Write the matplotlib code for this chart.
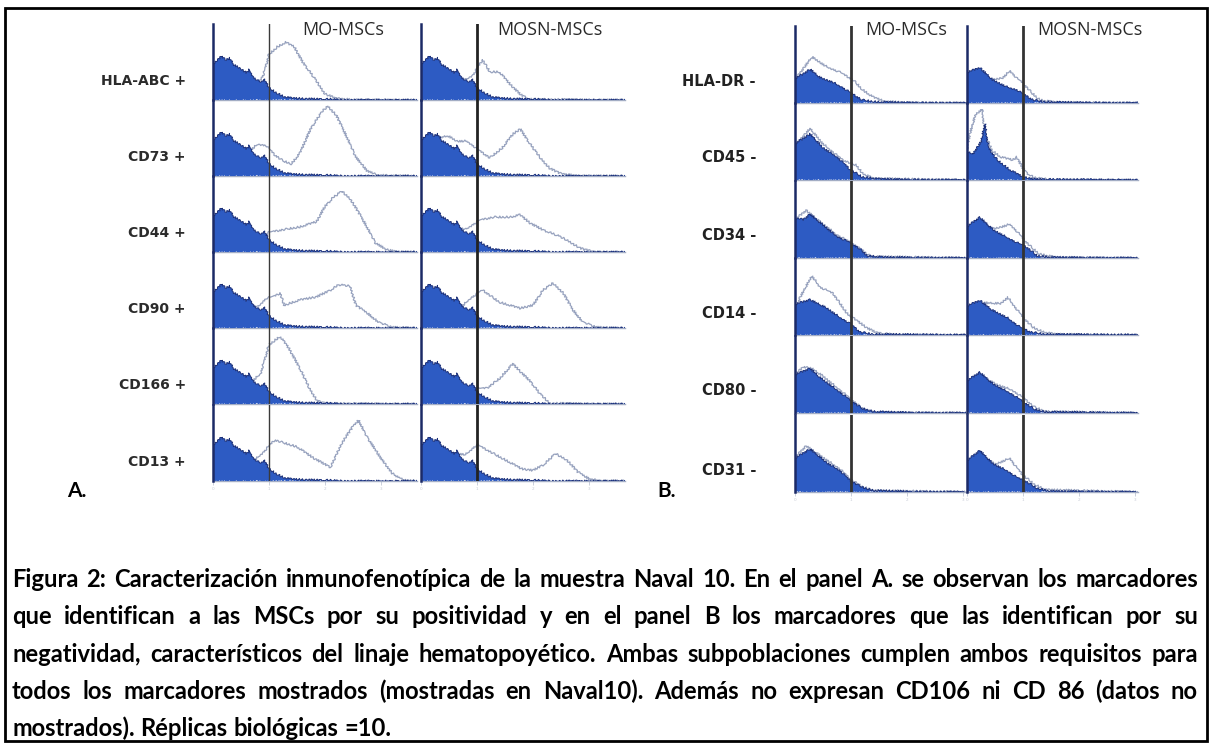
import matplotlib
matplotlib.use("Agg")
import matplotlib.pyplot as plt
from matplotlib.patches import Rectangle

W, H = 1213, 747

columns = ["MO-MSCs", "MOSN-MSCs"]
a_rows = ["HLA-ABC +", "CD73 +", "CD44 +", "CD90 +", "CD166 +", "CD13 +"]
b_rows = ["HLA-DR -", "CD45 -", "CD34 -", "CD14 -", "CD80 -", "CD31 -"]

# curves as (log decade, fraction of row height) points
# panel A: isotype control (filled), same in every row
a_iso = [(0, 0.48), (0.08, 0.52), (0.15, 0.58), (0.22, 0.53), (0.3, 0.55), (0.38, 0.46),
         (0.5, 0.41), (0.6, 0.36), (0.65, 0.40), (0.72, 0.30), (0.85, 0.23), (0.93, 0.27),
         (1.0, 0.16), (1.12, 0.10), (1.25, 0.05), (1.4, 0.025), (1.7, 0.015), (2.1, 0.01),
         (2.3, 0.0), (3.65, 0.0)]

a_mo = [
    [(0, 0.4), (0.8, 0.22), (0.9, 0.33), (1.0, 0.6), (1.15, 0.7), (1.3, 0.76), (1.45, 0.7),
     (1.6, 0.5), (1.8, 0.3), (2.0, 0.08), (2.2, 0.02), (2.5, 0.005), (3.65, 0)],
    [(0, 0.4), (0.6, 0.3), (0.8, 0.42), (0.95, 0.4), (1.1, 0.28), (1.25, 0.2), (1.4, 0.16),
     (1.55, 0.3), (1.75, 0.63), (1.95, 0.85), (2.05, 0.92), (2.2, 0.8), (2.4, 0.5),
     (2.55, 0.25), (2.75, 0.07), (2.95, 0.01), (3.65, 0)],
    [(0, 0.4), (0.9, 0.2), (1.0, 0.26), (1.3, 0.3), (1.55, 0.33), (1.85, 0.4), (2.0, 0.6),
     (2.15, 0.72), (2.3, 0.8), (2.45, 0.7), (2.6, 0.52), (2.75, 0.33), (2.9, 0.12),
     (3.1, 0.03), (3.3, 0.005), (3.65, 0)],
    [(0, 0.4), (0.8, 0.28), (0.95, 0.39), (1.1, 0.42), (1.2, 0.46), (1.27, 0.3), (1.55, 0.37),
     (1.85, 0.41), (2.1, 0.5), (2.25, 0.57), (2.45, 0.55), (2.55, 0.3), (2.75, 0.2),
     (2.95, 0.08), (3.2, 0.01), (3.65, 0)],
    [(0, 0.4), (0.7, 0.3), (0.85, 0.4), (1.0, 0.78), (1.2, 0.89), (1.35, 0.74), (1.55, 0.47),
     (1.72, 0.21), (1.86, 0.04), (2.0, 0.01), (3.65, 0)],
    [(0, 0.4), (0.75, 0.28), (0.9, 0.38), (1.1, 0.54), (1.5, 0.45), (1.8, 0.3), (2.1, 0.18),
     (2.3, 0.5), (2.5, 0.72), (2.6, 0.8), (2.75, 0.58), (2.98, 0.32), (3.2, 0.1),
     (3.4, 0.01), (3.65, 0)],
]

a_mosn = [
    [(0, 0.4), (0.8, 0.27), (0.93, 0.33), (1.1, 0.53), (1.23, 0.37), (1.4, 0.37), (1.6, 0.2),
     (1.78, 0.07), (1.95, 0.01), (3.65, 0)],
    [(0, 0.42), (0.3, 0.5), (0.48, 0.53), (0.64, 0.46), (0.82, 0.46), (1.05, 0.33),
     (1.23, 0.24), (1.45, 0.37), (1.64, 0.55), (1.77, 0.62), (1.95, 0.42), (2.13, 0.24),
     (2.3, 0.1), (2.5, 0.03), (2.8, 0.005), (3.65, 0)],
    [(0, 0.4), (0.8, 0.3), (1.05, 0.42), (1.3, 0.46), (1.6, 0.46), (1.77, 0.49), (1.95, 0.38),
     (2.18, 0.29), (2.43, 0.22), (2.6, 0.16), (2.84, 0.05), (3.07, 0.005), (3.65, 0)],
    [(0, 0.4), (0.75, 0.3), (0.88, 0.39), (1.1, 0.5), (1.4, 0.34), (1.77, 0.26), (2.0, 0.3),
     (2.18, 0.5), (2.36, 0.59), (2.54, 0.46), (2.71, 0.24), (2.89, 0.08), (3.14, 0.01),
     (3.65, 0)],
    [(0, 0.4), (0.9, 0.2), (1.18, 0.21), (1.41, 0.34), (1.64, 0.53), (1.77, 0.43),
     (1.95, 0.3), (2.13, 0.13), (2.3, 0.01), (3.65, 0)],
    [(0, 0.4), (0.8, 0.35), (1.0, 0.48), (1.2, 0.4), (1.5, 0.28), (1.8, 0.16), (2.0, 0.14),
     (2.2, 0.22), (2.4, 0.36), (2.6, 0.28), (2.8, 0.12), (3.0, 0.03), (3.2, 0.005), (3.65, 0)],
]

# panel B: filled and outlined curves differ per row
b_mo_iso = [
    [(0, 0.32), (0.15, 0.38), (0.27, 0.44), (0.45, 0.33), (0.68, 0.27), (0.85, 0.2),
     (1.02, 0.12), (1.2, 0.04), (1.45, 0.015), (2.0, 0.005), (3.05, 0)],
    [(0, 0.47), (0.27, 0.6), (0.5, 0.42), (0.75, 0.3), (0.98, 0.14), (1.2, 0.04),
     (1.5, 0.015), (2.0, 0.005), (3.05, 0)],
    [(0, 0.52), (0.15, 0.5), (0.27, 0.57), (0.45, 0.46), (0.75, 0.28), (0.98, 0.2),
     (1.16, 0.12), (1.29, 0.03), (1.6, 0.01), (2.2, 0.005), (3.05, 0)],
    [(0, 0.4), (0.27, 0.46), (0.57, 0.35), (0.8, 0.23), (0.98, 0.15), (1.16, 0.04),
     (1.4, 0.01), (3.05, 0)],
    [(0, 0.5), (0.27, 0.58), (0.45, 0.46), (0.75, 0.3), (0.98, 0.17), (1.2, 0.06),
     (1.4, 0.02), (2.0, 0.005), (3.05, 0)],
    [(0, 0.44), (0.27, 0.56), (0.57, 0.38), (0.8, 0.28), (0.98, 0.15), (1.21, 0.06),
     (1.4, 0.02), (2.0, 0.005), (3.05, 0)],
]
b_mo = [
    [(0, 0.3), (0.2, 0.5), (0.3, 0.6), (0.57, 0.47), (0.8, 0.4), (1.04, 0.3), (1.21, 0.17),
     (1.39, 0.08), (1.6, 0.02), (2.0, 0.005), (3.05, 0)],
    [(0, 0.45), (0.27, 0.67), (0.5, 0.47), (0.85, 0.26), (1.1, 0.19), (1.2, 0.09),
     (1.4, 0.02), (3.05, 0)],
    [(0, 0.5), (0.2, 0.62), (0.4, 0.5), (0.75, 0.3), (1.0, 0.2), (1.2, 0.1), (1.35, 0.02),
     (3.05, 0)],
    [(0, 0.3), (0.09, 0.49), (0.3, 0.77), (0.45, 0.62), (0.68, 0.54), (0.93, 0.28),
     (1.1, 0.19), (1.29, 0.09), (1.46, 0.03), (1.8, 0.005), (3.05, 0)],
    [(0, 0.5), (0.15, 0.6), (0.3, 0.58), (0.5, 0.48), (0.8, 0.3), (1.0, 0.18), (1.2, 0.06),
     (1.4, 0.01), (3.05, 0)],
    [(0, 0.45), (0.2, 0.6), (0.4, 0.5), (0.8, 0.3), (1.0, 0.16), (1.2, 0.07), (1.4, 0.02),
     (3.05, 0)],
]
b_mosn_iso = [
    [(0, 0.4), (0.23, 0.46), (0.46, 0.3), (0.71, 0.21), (0.89, 0.17), (1.04, 0.1),
     (1.18, 0.04), (1.4, 0.015), (2.0, 0.005), (3.05, 0)],
    [(0, 0.38), (0.1, 0.33), (0.25, 0.5), (0.32, 0.73), (0.38, 0.42), (0.54, 0.26),
     (0.77, 0.13), (1.0, 0.04), (1.2, 0.01), (3.05, 0)],
    [(0, 0.41), (0.23, 0.53), (0.46, 0.37), (0.71, 0.27), (0.89, 0.2), (1.07, 0.14),
     (1.25, 0.03), (1.5, 0.01), (2.0, 0.005), (3.05, 0)],
    [(0, 0.38), (0.23, 0.45), (0.46, 0.32), (0.71, 0.23), (0.95, 0.1), (1.13, 0.04),
     (1.4, 0.01), (3.05, 0)],
    [(0, 0.42), (0.23, 0.53), (0.46, 0.38), (0.77, 0.26), (1.0, 0.15), (1.2, 0.05),
     (1.4, 0.015), (3.05, 0)],
    [(0, 0.41), (0.23, 0.54), (0.46, 0.37), (0.71, 0.28), (0.89, 0.19), (1.07, 0.13),
     (1.25, 0.05), (1.5, 0.01), (3.05, 0)],
]
b_mosn = [
    [(0, 0.38), (0.2, 0.44), (0.45, 0.3), (0.64, 0.33), (0.77, 0.42), (0.89, 0.32),
     (1.0, 0.26), (1.16, 0.13), (1.3, 0.04), (1.6, 0.01), (3.05, 0)],
    [(0, 0.4), (0.05, 0.6), (0.15, 0.85), (0.27, 0.92), (0.32, 0.6), (0.45, 0.38),
     (0.6, 0.3), (0.82, 0.26), (0.89, 0.3), (0.98, 0.17), (1.07, 0.09), (1.2, 0.03),
     (1.5, 0.005), (3.05, 0)],
    [(0, 0.4), (0.23, 0.5), (0.46, 0.38), (0.59, 0.4), (0.77, 0.44), (0.91, 0.33),
     (1.04, 0.22), (1.18, 0.12), (1.3, 0.05), (1.6, 0.01), (3.05, 0)],
    [(0, 0.36), (0.3, 0.42), (0.6, 0.41), (0.73, 0.49), (0.86, 0.36), (1.0, 0.23),
     (1.18, 0.1), (1.36, 0.04), (1.6, 0.01), (3.05, 0)],
    [(0, 0.4), (0.23, 0.5), (0.5, 0.38), (0.8, 0.3), (1.0, 0.2), (1.2, 0.08), (1.4, 0.02),
     (3.05, 0)],
    [(0, 0.4), (0.23, 0.5), (0.5, 0.36), (0.77, 0.44), (0.86, 0.34), (1.0, 0.22),
     (1.2, 0.1), (1.4, 0.03), (3.05, 0)],
]

caption = [
    "Figura 2: Caracterización inmunofenotípica de la muestra Naval 10. En el panel A. se observan los marcadores",
    "que identifican a las MSCs por su positividad y en el panel B los marcadores que las identifican por su",
    "negatividad, característicos del linaje hematopoyético. Ambas subpoblaciones cumplen ambos requisitos para",
    "todos los marcadores mostrados (mostradas en Naval10). Además no expresan CD106 ni CD 86 (datos no",
    "mostrados). Réplicas biológicas =10.",
]

FILL = "#2d5bc3"
EDGE = "#1b2f78"
STAIN = "#97a2be"
AXIS = "#1c2a66"
BASE = "#a3adc4"

fig = plt.figure(figsize=(W / 100, H / 100), dpi=100)


def px_axes(left, top, width, height):
    return fig.add_axes([left / W, 1 - (top + height) / H, width / W, height / H])


def panel(left, top, width, height, xmax, iso, stain, gate_lw, gate_col, last):
    ax = px_axes(left, top, width, height)
    ax.set_facecolor("none")
    xs, hs = zip(*stain)
    ln, = ax.plot(xs, hs, color=STAIN, lw=0.9, zorder=2)
    ln.set_sketch_params(1.0, 3, 2)
    xs, hs = zip(*iso)
    poly = ax.fill(list(xs) + [0], list(hs) + [0], color=FILL, lw=0, zorder=3)[0]
    poly.set_sketch_params(1.0, 3, 2)
    edge, = ax.plot(xs, hs, color=EDGE, lw=0.7, zorder=4)
    edge.set_sketch_params(1.0, 3, 2)
    ax.axvline(1, color=gate_col, lw=gate_lw, zorder=6)
    ax.set_xlim(0, xmax)
    ax.set_ylim(0, 1)
    for s in ("top", "right"):
        ax.spines[s].set_visible(False)
    ax.spines["left"].set_color(AXIS)
    ax.spines["left"].set_linewidth(1.8)
    ax.spines["left"].set_zorder(7)
    ax.spines["bottom"].set_color(BASE)
    ax.spines["bottom"].set_linewidth(1.0)
    ax.set_yticks([])
    if last:
        ax.set_xticks(range(int(xmax) + 1))
        ax.tick_params(axis="x", length=3, width=0.6, color="#c0c6d4", labelsize=3,
                       labelcolor="#c8ccd6", pad=1)
    else:
        ax.set_xticks([])
    return ax


# panel A
a_left = [213, 421]
a_base = [100, 176, 252, 328, 404, 481]
a_h = 76
a_xmax = 3.65
a_gates = [(1.0, "#3a3a3a"), (2.0, "#222222")]
for r, base in enumerate(a_base):
    for c, left in enumerate(a_left):
        stain = a_mo[r] if c == 0 else a_mosn[r]
        panel(left, base - a_h, a_xmax * 56, a_h, a_xmax, a_iso, stain,
              a_gates[c][0], a_gates[c][1], r == len(a_base) - 1)
    fig.text(186 / W, 1 - (base - 19) / H, a_rows[r], ha="right", va="center",
             fontsize=10, fontweight="bold", color="#2b2b2b", family="DejaVu Sans")

# panel B
b_left = [795, 967]
b_base = [103, 180, 258, 335, 413, 492]
b_h = 77
b_xmax = 3.05
for r, base in enumerate(b_base):
    for c, left in enumerate(b_left):
        iso = b_mo_iso[r] if c == 0 else b_mosn_iso[r]
        stain = b_mo[r] if c == 0 else b_mosn[r]
        panel(left, base - b_h, b_xmax * 56, b_h, b_xmax, iso, stain,
              2.0, "#333333", r == len(b_base) - 1)
    fig.text(756 / W, 1 - (base - 22) / H, b_rows[r], ha="right", va="center",
             fontsize=10.5, fontweight="bold", color="#222222", family="DejaVu Sans")

# column headers
for x, name in zip([343, 550, 906, 1090], columns * 2):
    fig.text(x / W, 1 - 30 / H, name, ha="center", va="center", fontsize=13,
             color="#2a2a2a", family="Open Sans")

fig.text(67 / W, 1 - 491 / H, "A.", ha="left", va="center", fontsize=15,
         fontweight="bold", family="Lato")
fig.text(657 / W, 1 - 491 / H, "B.", ha="left", va="center", fontsize=15,
         fontweight="bold", family="Lato")

# justified caption, font size chosen so the first line fills the width
renderer = fig.canvas.get_renderer()
x0, x1 = 12, 1198
cap_base = [587, 624, 662, 699, 736]


def measure(s, size):
    t = fig.text(0, 0, s, fontsize=size, fontweight="bold", family="Lato")
    w = t.get_window_extent(renderer).width
    t.remove()
    return w


size = 13.5 * (x1 - x0) * 0.97 / measure(caption[0], 13.5)
sp = measure("a b", size) - measure("ab", size)
for i, (line, y) in enumerate(zip(caption, cap_base)):
    words = line.split(" ")
    arts = [fig.text(0, 1 - y / H, w, ha="left", va="baseline", fontsize=size,
                     fontweight="bold", family="Lato", color="black") for w in words]
    widths = [a.get_window_extent(renderer).width for a in arts]
    if i < len(caption) - 1:
        gap = max((x1 - x0 - sum(widths)) / (len(words) - 1), sp * 0.6)
    else:
        gap = sp
    x = x0
    for a, w in zip(arts, widths):
        a.set_x(x / W)
        x += w + gap

fig.add_artist(Rectangle((5 / W, 1 - 741 / H), 1202 / W, 733 / H, transform=fig.transFigure,
                         fill=False, lw=2, edgecolor="black"))

fig.savefig("out.png", dpi=100)
